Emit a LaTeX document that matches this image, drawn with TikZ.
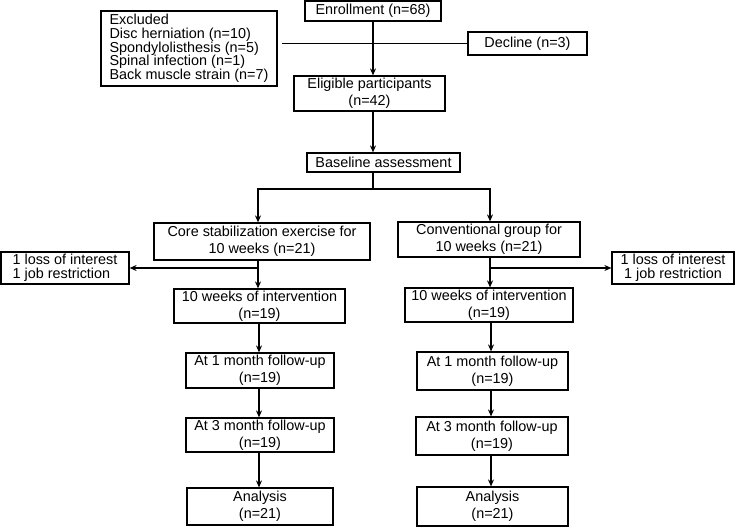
\documentclass[tikz,border=0pt]{standalone}
\usepackage{fontspec}
\setmainfont{Liberation Sans}
\usetikzlibrary{arrows.meta}
\begin{document}
\begin{tikzpicture}[x=1pt,y=-1pt,
  box/.style={draw, line width=1.2pt, inner sep=0pt, align=center, font=\fontsize{14.4}{17}\selectfont},
  tight/.style={font=\fontsize{14.4}{13.7}\selectfont, align=left},
  arr/.style={-{Stealth[length=7pt,width=6pt]}, line width=1.2pt},
  ln/.style={line width=1.2pt}]
\useasboundingbox (0,0) rectangle (735,527);
% top part
\node[box, minimum width=136pt, minimum height=20pt] (enroll) at (373,11) {Enrollment (n=68)};
\node[box, tight, minimum width=176pt, minimum height=75pt] (excl) at (189,48.5)
  {Excluded\\Disc herniation (n=10)\\Spondylolisthesis (n=5)\\Spinal infection (n=1)\\Back muscle strain (n=7)};
\node[box, minimum width=119pt, minimum height=23pt] (decline) at (527.5,43.5) {Decline (n=3)};
\node[box, minimum width=151pt, minimum height=35pt] (elig) at (369.5,93.5) {Eligible participants\\(n=42)};
\node[box, minimum width=153pt, minimum height=19pt] (base) at (383.5,162.5) {Baseline assessment};
% groups
\node[box, minimum width=216pt, minimum height=37pt] (core) at (262,241.5) {Core stabilization exercise for\\10 weeks (n=21)};
\node[box, minimum width=182pt, minimum height=35pt] (conv) at (489,239.5) {Conventional group for\\10 weeks (n=21)};
\node[box, tight, minimum width=128pt, minimum height=32pt] (lossL) at (65,268) {1 loss of interest\\1 job restriction};
\node[box, font=\fontsize{14.4}{13.7}\selectfont, minimum width=122pt, minimum height=32pt] (lossR) at (673,268) {1 loss of interest\\1 job restriction};
% left column
\node[box, minimum width=171pt, minimum height=34pt] (intL) at (259.5,306) {10 weeks of intervention\\(n=19)};
\node[box, minimum width=148pt, minimum height=35pt] (m1L) at (260,370.5) {At 1 month follow-up\\(n=19)};
\node[box, minimum width=148pt, minimum height=34pt] (m3L) at (260,435) {At 3 month follow-up\\(n=19)};
\node[box, minimum width=146pt, minimum height=37pt] (anL) at (260,506.5) {Analysis\\(n=21)};
% right column
\node[box, minimum width=168pt, minimum height=34pt] (intR) at (489,305) {10 weeks of intervention\\(n=19)};
\node[box, minimum width=151pt, minimum height=38pt] (m1R) at (492.5,371) {At 1 month follow-up\\(n=19)};
\node[box, minimum width=152pt, minimum height=38pt] (m3R) at (492,436) {At 3 month follow-up\\(n=19)};
\node[box, minimum width=151pt, minimum height=39pt] (anR) at (492.5,506.5) {Analysis\\(n=21)};
% helper coordinates
\coordinate (xl) at (282,43);
\coordinate (split) at (373,189);
\coordinate (lc) at (258,0);
\coordinate (rc) at (490,0);
\coordinate (lc2) at (259,0);
\coordinate (rc2) at (491,0);
% connectors
\draw[ln] (decline.west -| xl) -- (decline.west);
\draw[arr] (enroll.south) -- (elig.north -| enroll.south);
\draw[arr] (elig.south -| enroll.south) -- (base.north -| enroll.south);
\draw[ln] (base.south -| enroll.south) -- (split);
\draw[arr] (split) -| (lc |- core.north);
\draw[arr] (split) -| (rc |- conv.north);
\draw[arr] (lc |- core.south) -- (lc |- intL.north);
\draw[arr] (rc |- conv.south) -- (rc |- intR.north);
\draw[arr] (lc |- lossL.east) -- (lossL.east);
\draw[arr] (rc |- lossR.west) -- (lossR.west);
\draw[arr] (lc2 |- intL.south) -- (lc2 |- m1L.north);
\draw[arr] (lc2 |- m1L.south) -- (lc2 |- m3L.north);
\draw[arr] (lc2 |- m3L.south) -- (lc2 |- anL.north);
\draw[arr] (rc2 |- intR.south) -- (rc2 |- m1R.north);
\draw[arr] (rc2 |- m1R.south) -- (rc2 |- m3R.north);
\draw[arr] (rc2 |- m3R.south) -- (rc2 |- anR.north);
\end{tikzpicture}
\end{document}
